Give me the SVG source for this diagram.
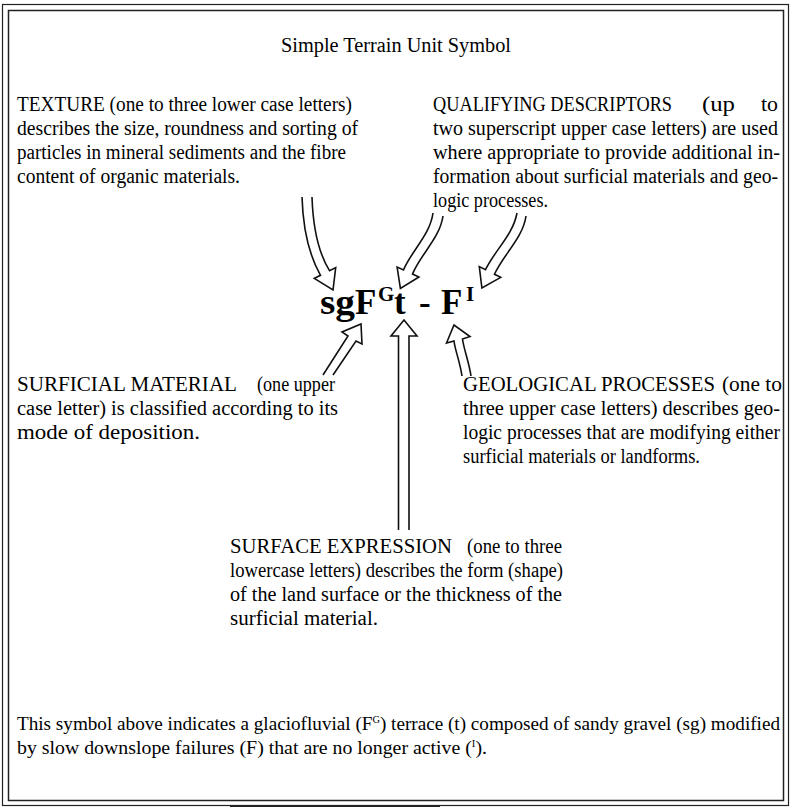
<svg xmlns="http://www.w3.org/2000/svg" width="793" height="811" viewBox="0 0 793 811">
<style>
  .t { font-family: "Liberation Serif", "Times New Roman", serif; font-size: 20px; fill: #000; }
  .ex { font-family: "Liberation Serif", "Times New Roman", serif; font-size: 18.5px; fill: #000; }
  .sup { font-family: "Liberation Serif", "Times New Roman", serif; font-size: 10px; fill: #000; }
  .sym { font-family: "Liberation Serif", "Times New Roman", serif; font-weight: bold; font-size: 35px; fill: #000; }
  .symsup { font-family: "Liberation Serif", "Times New Roman", serif; font-weight: bold; font-size: 21px; fill: #000; }
  .arrow { fill: #fff; stroke: #111; stroke-width: 1.6; stroke-linejoin: miter; }
  .frame { fill: none; stroke: #222; }
</style>
<rect x="0" y="0" width="793" height="811" fill="#fff"/>
<g id="frame">
  <rect class="frame" x="2.5" y="4.5" width="786" height="801" stroke-width="1.2"/>
  <rect class="frame" x="8.5" y="10.5" width="775" height="790" stroke-width="1.5"/>
  <line x1="230" y1="806" x2="440" y2="806" stroke="#222" stroke-width="2"/>
</g>
<g id="title">
  <text class="t" x="281" y="52" textLength="230" lengthAdjust="spacingAndGlyphs">Simple Terrain Unit Symbol</text>
</g>
<g id="texture">
  <text class="t" x="17" y="111" textLength="335" lengthAdjust="spacingAndGlyphs">TEXTURE (one to three lower case letters)</text>
  <text class="t" x="17" y="135" textLength="341" lengthAdjust="spacingAndGlyphs">describes the size, roundness and sorting of</text>
  <text class="t" x="17" y="159" textLength="329" lengthAdjust="spacingAndGlyphs">particles in mineral sediments and the fibre</text>
  <text class="t" x="17" y="183" textLength="223" lengthAdjust="spacingAndGlyphs">content of organic materials.</text>
</g>
<g id="qualifying">
  <text class="t" x="433" y="111" textLength="239" lengthAdjust="spacingAndGlyphs">QUALIFYING DESCRIPTORS</text>
  <text class="t" x="702" y="111" textLength="33" lengthAdjust="spacingAndGlyphs">(up</text>
  <text class="t" x="761" y="111" textLength="17" lengthAdjust="spacingAndGlyphs">to</text>
  <text class="t" x="433" y="135" textLength="345" lengthAdjust="spacingAndGlyphs">two superscript upper case letters) are used</text>
  <text class="t" x="433" y="159" textLength="347" lengthAdjust="spacingAndGlyphs">where appropriate to provide additional in-</text>
  <text class="t" x="433" y="183" textLength="345" lengthAdjust="spacingAndGlyphs">formation about surficial materials and geo-</text>
  <text class="t" x="433" y="207" textLength="115" lengthAdjust="spacingAndGlyphs">logic processes.</text>
</g>
<g id="symbol">
  <text class="sym" x="320" y="314" textLength="35" lengthAdjust="spacingAndGlyphs">sg</text>
  <text class="sym" x="355" y="314">F</text>
  <text class="symsup" x="378" y="301">G</text>
  <text class="sym" x="394" y="314">t</text>
  <text class="sym" x="419" y="314">-</text>
  <text class="sym" x="441" y="314">F</text>
  <text class="symsup" x="466" y="301">I</text>
</g>
<g id="surficial">
  <text class="t" x="17" y="391" textLength="220" lengthAdjust="spacingAndGlyphs">SURFICIAL MATERIAL</text>
  <text class="t" x="257" y="391" textLength="78" lengthAdjust="spacingAndGlyphs">(one upper</text>
  <text class="t" x="17" y="415" textLength="321" lengthAdjust="spacingAndGlyphs">case letter) is classified according to its</text>
  <text class="t" x="17" y="439" textLength="183" lengthAdjust="spacingAndGlyphs">mode of deposition.</text>
</g>
<g id="geological">
  <text class="t" x="463" y="391" textLength="252" lengthAdjust="spacingAndGlyphs">GEOLOGICAL PROCESSES</text>
  <text class="t" x="722" y="391" textLength="60" lengthAdjust="spacingAndGlyphs">(one to</text>
  <text class="t" x="463" y="415" textLength="317" lengthAdjust="spacingAndGlyphs">three upper case letters) describes geo-</text>
  <text class="t" x="463" y="439" textLength="317" lengthAdjust="spacingAndGlyphs">logic processes that are modifying either</text>
  <text class="t" x="463" y="463" textLength="237" lengthAdjust="spacingAndGlyphs">surficial materials or landforms.</text>
</g>
<g id="surface-expression">
  <text class="t" x="230" y="553" textLength="222" lengthAdjust="spacingAndGlyphs">SURFACE EXPRESSION</text>
  <text class="t" x="467" y="553" textLength="95" lengthAdjust="spacingAndGlyphs">(one to three</text>
  <text class="t" x="230" y="577" textLength="333" lengthAdjust="spacingAndGlyphs">lowercase letters) describes the form (shape)</text>
  <text class="t" x="230" y="601" textLength="332" lengthAdjust="spacingAndGlyphs">of the land surface or the thickness of the</text>
  <text class="t" x="230" y="625" textLength="148" lengthAdjust="spacingAndGlyphs">surficial material.</text>
</g>
<g id="explanation">
  <text class="ex" x="17" y="730" textLength="763" lengthAdjust="spacingAndGlyphs">This symbol above indicates a glaciofluvial (F<tspan font-size="10" dy="-7">G</tspan><tspan dy="7">) terrace (t) composed of sandy gravel (sg) modified</tspan></text>
  <text class="ex" x="17" y="754" textLength="470" lengthAdjust="spacingAndGlyphs">by slow downslope failures (F) that are no longer active  (<tspan font-size="10" dy="-7">I</tspan><tspan dy="7">).</tspan></text>
</g>
<g id="connectors">
  <path class="arrow" d="M302,197 C303,230 309,255 320.5,275.3 L314.3,278.4 L333,290 L335.7,267.6 L329.5,270.7 C318,252 313,228 312,197"/>
  <path class="arrow" d="M433,213 C430,235 412,250 403.5,269.9 L397.1,267 L400.4,288.4 L418.9,277 L412.5,274.1 C420,255 440,238 443,216"/>
  <path class="arrow" d="M517,213 C513,235 495,250 485.5,269.7 L479.3,266.6 L481.9,288 L500.7,277.4 L494.5,274.3 C503,255 523,238 526,216"/>
  <path class="arrow" d="M323,375 L348,336 L342,332 L361,324 L362,344 L356,341 L333,375"/>
  <path class="arrow" d="M398.5,530 L398.5,336 L391,336 L404,320 L417,336 L409,336 L409,530"/>
  <path class="arrow" d="M462,376 C460,362 455,350 454,341 L446.5,343 L454,325 L470,336.5 L462.5,339 C464,350 469,362 471,376"/>
</g>
</svg>
